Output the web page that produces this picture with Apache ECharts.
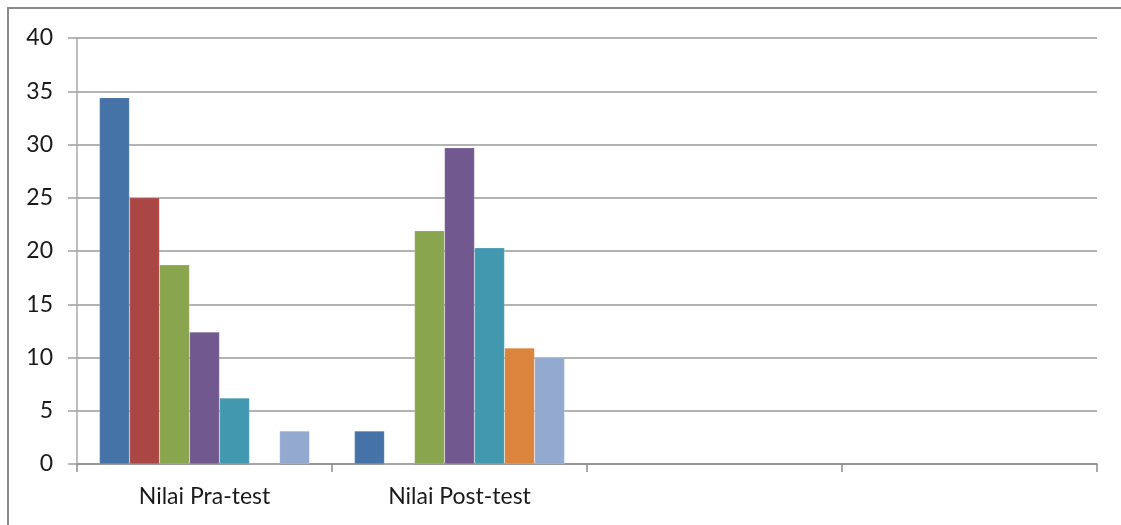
<!DOCTYPE html>
<html>
<head>
<meta charset="utf-8">
<style>
  html, body { margin: 0; padding: 0; background: #fff; }
  #chart { width: 1121px; height: 525px; }
</style>
<script src="https://cdn.jsdelivr.net/npm/echarts@6/dist/echarts.min.js"></script>
</head>
<body>
<div id="chart"></div>
<script>
// Categories along the x axis (the last two slots are left blank)
const categories = ['Nilai Pra-test', 'Nilai Post-test', '', ''];

// Percentage of students per score band, pre-test and post-test
const band1 = [34.4, 3.1, null, null];
const band2 = [25.0, 0, null, null];
const band3 = [18.7, 21.9, null, null];
const band4 = [12.4, 29.7, null, null];
const band5 = [6.2, 20.3, null, null];
const band6 = [0, 10.9, null, null];
const band7 = [3.1, 10.0, null, null];

const seriesNames = ['Kelompok 1', 'Kelompok 2', 'Kelompok 3', 'Kelompok 4', 'Kelompok 5', 'Kelompok 6', 'Kelompok 7'];
const seriesData = [band1, band2, band3, band4, band5, band6, band7];
const colors = ['#4572A7', '#AA4643', '#89A54E', '#71588F', '#4198AF', '#DB843D', '#93A9CF'];

const yTicks = { min: 0, max: 40, interval: 5 };

const fontFamily = 'Lato, "Open Sans", sans-serif';
const gray = '#9a9a9a';

const chart = echarts.init(document.getElementById('chart'), null, { renderer: 'canvas' });

chart.setOption({
  animation: false,
  color: colors,
  grid: { left: 77, right: 24, top: 38, bottom: 61, containLabel: false },
  graphic: [{
    type: 'rect',
    shape: { x: 8, y: 8, width: 1140, height: 560 },
    style: { fill: 'none', stroke: '#8a8a8a', lineWidth: 2 },
    silent: true
  }],
  xAxis: {
    type: 'category',
    data: categories,
    boundaryGap: true,
    axisLine: { show: true, lineStyle: { color: '#8c8c8c', width: 1.5 } },
    axisTick: { show: true, length: 8, alignWithLabel: false, lineStyle: { color: '#8c8c8c', width: 1.5 } },
    axisLabel: { color: '#1a1a1a', fontSize: 23, fontFamily: fontFamily, margin: 21 }
  },
  yAxis: {
    type: 'value',
    min: yTicks.min,
    max: yTicks.max,
    interval: yTicks.interval,
    axisLine: { show: true, lineStyle: { color: '#a8a8a8', width: 1.5 } },
    axisTick: { show: true, length: 9, lineStyle: { color: '#a0a0a0', width: 1.5 } },
    axisLabel: { color: '#1a1a1a', fontSize: 23, fontFamily: fontFamily, margin: 24 },
    splitLine: { show: true, lineStyle: { color: gray, width: 1.5 } }
  },
  series: seriesData.map((d, i) => ({
    name: seriesNames[i],
    type: 'bar',
    data: d,
    barGap: '0%',
    barCategoryGap: '17.6%',
    itemStyle: { color: colors[i], borderColor: 'rgba(255,255,255,0.35)', borderWidth: 0.5 }
  }))
});
</script>
</body>
</html>
